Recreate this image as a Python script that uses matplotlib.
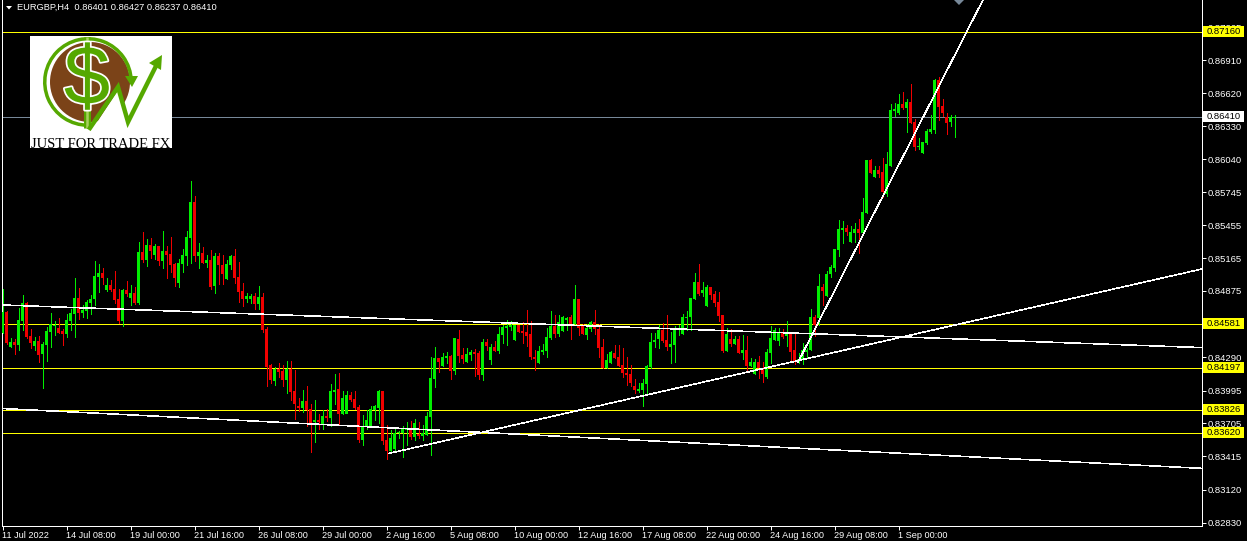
import matplotlib
matplotlib.use('Agg')
import matplotlib.pyplot as plt
import matplotlib.patheffects as pe
from matplotlib.patches import Circle, Rectangle, Wedge, Polygon

plt.rcParams['font.family'] = ['Liberation Sans', 'DejaVu Sans']

# EURGBP H4 candles
opens = [
    .84501, .84692, .84380, .84424, .84398, .84610, .84766, .84477, .84389, .84433,
    .84318, .84398, .84513, .84566, .84548, .84522, .84495, .84610, .84672, .84813,
    .84680, .84698, .84769, .84804, .84998, .85034, .84884, .84928, .84892, .84804,
    .84610, .84884, .84813, .84857, .84769, .85219, .85148, .85281, .85193, .85272,
    .85140, .85228, .85201, .85113, .84945, .85113, .85184, .85343, .85660, .85184,
    .85210, .85122, .85148, .84919, .85184, .85104, .84981, .85104, .85184, .84998,
    .84875, .84804, .84804, .84831, .84760, .84822, .84539, .84221, .84080, .84186,
    .84168, .84089, .84186, .83992, .83859, .83842, .83903, .83833, .83718, .83736,
    .83700, .83771, .83753, .83983, .84009, .83789, .83791, .83956, .83921, .83850,
    .83559, .83683, .83683, .83824, .83842, .83992, .83559, .83462, .83480, .83621,
    .83621, .83647, .83665, .83586, .83612, .83594, .83603, .83762, .84098, .84283,
    .84212, .84283, .84301, .84168, .84451, .84310, .84248, .84310, .84336, .84327,
    .84133, .84424, .84265, .84380, .84345, .84486, .84548, .84557, .84442, .84574,
    .84521, .84513, .84495, .84292, .84239, .84336, .84345, .84459, .84565, .84495,
    .84521, .84618, .84645, .84583, .84804, .84574, .84486, .84539, .84601, .84539,
    .84380, .84194, .84239, .84327, .84292, .84221, .84150, .84141, .84036, .83991,
    .84000, .84053, .84203, .84424, .84451, .84530, .84442, .84380, .84398, .84530,
    .84495, .84636, .84645, .84804, .84954, .84857, .84742, .84910, .84848, .84777,
    .84662, .84345, .84451, .84406, .84451, .84327, .84353, .84212, .84141, .84248,
    .84194, .84115, .84327, .84442, .84433, .84503, .84477, .84495, .84353, .84265,
    .84274, .84336, .84354, .84645, .84636, .84910, .84831, .85025, .85078, .85237,
    .85413, .85431, .85307, .85387, .85422, .85387, .85563, .86031, .85881, .85943,
    .85926, .85731, .85978, .86464, .86446, .86526, .86490, .86543, .86367, .86146,
    .86093, .86181, .86279, .86296, .86738, .86508, .86411, .86367, .86401,
]
highs = [
    .84892, .84701, .84460, .84451, .84725, .84839, .84778, .84539, .84469, .84477,
    .84424, .84557, .84680, .84610, .84636, .84539, .84672, .84716, .84989, .84901,
    .84751, .84795, .84839, .85140, .85113, .85078, .84989, .84972, .85051, .84892,
    .84892, .84963, .84928, .84910, .85307, .85396, .85334, .85343, .85290, .85272,
    .85404, .85272, .85351, .85122, .85157, .85246, .85404, .85846, .85713, .85298,
    .85263, .85193, .85237, .85210, .85210, .85193, .85148, .85193, .85246, .85131,
    .84945, .84857, .84848, .84857, .84919, .84857, .84557, .84230, .84204, .84239,
    .84221, .84257, .84257, .84177, .83930, .84001, .84036, .83877, .83912, .83789,
    .83824, .83833, .84053, .84142, .84151, .83992, .83992, .83983, .83992, .83868,
    .83780, .83824, .83859, .83868, .84001, .83992, .83692, .83647, .83656, .83639,
    .83683, .83718, .83727, .83744, .83718, .83692, .83806, .84292, .84380, .84283,
    .84327, .84336, .84310, .84460, .84530, .84371, .84371, .84354, .84363, .84345,
    .84451, .84451, .84407, .84433, .84557, .84574, .84619, .84610, .84574, .84574,
    .84601, .84707, .84609, .84353, .84389, .84406, .84548, .84698, .84662, .84662,
    .84654, .84645, .84662, .84927, .84804, .84583, .84583, .84609, .84707, .84583,
    .84451, .84318, .84345, .84398, .84398, .84371, .84292, .84221, .84097, .84062,
    .84097, .84221, .84503, .84503, .84574, .84592, .84662, .84512, .84565, .84574,
    .84671, .84698, .84812, .85033, .85113, .84954, .84927, .84910, .84874, .84865,
    .84662, .84548, .84539, .84477, .84477, .84486, .84477, .84283, .84274, .84300,
    .84248, .84362, .84565, .84548, .84548, .84539, .84609, .84495, .84495, .84327,
    .84415, .84371, .84716, .84663, .85025, .84937, .85051, .85104, .85246, .85502,
    .85493, .85458, .85449, .85475, .85510, .85696, .86031, .86040, .85978, .85978,
    .86049, .86102, .86526, .86535, .86614, .86632, .86570, .86702, .86393, .86226,
    .86190, .86305, .86429, .86747, .86764, .86570, .86446, .86429, .86427,
]
lows = [
    .84501, .84407, .84380, .84318, .84354, .84530, .84460, .84371, .84354, .84248,
    .84018, .84257, .84380, .84486, .84504, .84398, .84469, .84530, .84469, .84627,
    .84645, .84636, .84672, .84751, .84866, .84936, .84875, .84875, .84769, .84592,
    .84566, .84831, .84751, .84760, .84760, .85131, .85095, .85166, .85157, .85104,
    .85078, .84989, .85043, .84919, .84910, .85043, .85104, .85122, .85140, .85078,
    .85122, .85087, .84892, .84857, .84936, .84936, .84981, .85069, .84945, .84778,
    .84742, .84778, .84769, .84716, .84716, .84513, .84036, .84062, .84045, .84115,
    .84036, .83974, .83912, .83744, .83815, .83806, .83683, .83453, .83541, .83656,
    .83656, .83727, .83683, .83877, .83700, .83789, .83806, .83903, .83833, .83541,
    .83515, .83656, .83683, .83736, .83709, .83524, .83391, .83441, .83462, .83577,
    .83409, .83515, .83568, .83559, .83577, .83559, .83603, .83427, .84027, .84160,
    .84212, .84239, .84098, .84142, .84248, .84239, .84248, .84265, .84124, .84098,
    .84089, .84354, .84230, .84345, .84327, .84415, .84398, .84530, .84442, .84513,
    .84415, .84389, .84274, .84177, .84239, .84318, .84292, .84451, .84468, .84477,
    .84521, .84530, .84451, .84574, .84486, .84495, .84451, .84521, .84495, .84292,
    .84194, .84194, .84239, .84283, .84212, .84115, .84044, .84036, .83974, .83983,
    .83859, .83974, .84194, .84380, .84371, .84424, .84353, .84239, .84248, .84486,
    .84495, .84530, .84530, .84804, .84839, .84830, .84742, .84804, .84742, .84609,
    .84336, .84345, .84389, .84406, .84327, .84274, .84159, .84212, .84141, .84106,
    .84071, .84106, .84239, .84442, .84398, .84459, .84389, .84256, .84230, .84239,
    .84230, .84292, .84354, .84477, .84575, .84751, .84831, .84998, .85051, .85184,
    .85299, .85369, .85307, .85307, .85210, .85387, .85563, .85917, .85881, .85881,
    .85705, .85714, .85978, .86420, .86438, .86482, .86279, .86358, .86120, .86129,
    .86093, .86173, .86270, .86270, .86385, .86420, .86261, .86332, .86237,
]
closes = [
    .84692, .84413, .84424, .84398, .84619, .84766, .84469, .84416, .84433, .84310,
    .84407, .84522, .84583, .84575, .84504, .84495, .84619, .84680, .84813, .84680,
    .84707, .84778, .84804, .85007, .85034, .84989, .84928, .84884, .84795, .84610,
    .84884, .84848, .84857, .84769, .85219, .85148, .85281, .85228, .85272, .85140,
    .85228, .85193, .85104, .84989, .85122, .85193, .85351, .85660, .85184, .85219,
    .85122, .85148, .84910, .85184, .85104, .85025, .85113, .85184, .84989, .84866,
    .84804, .84831, .84831, .84760, .84822, .84530, .84204, .84089, .84186, .84160,
    .84089, .84186, .83983, .83877, .83842, .83903, .83824, .83709, .83736, .83718,
    .83771, .83753, .83992, .84001, .83789, .83930, .83956, .83912, .83842, .83559,
    .83674, .83736, .83833, .83859, .83992, .83550, .83462, .83577, .83621, .83630,
    .83665, .83656, .83586, .83709, .83594, .83621, .83771, .84106, .84283, .84248,
    .84292, .84301, .84168, .84460, .84301, .84274, .84318, .84336, .84318, .84133,
    .84424, .84389, .84380, .84345, .84495, .84557, .84566, .84574, .84574, .84513,
    .84504, .84477, .84292, .84274, .84345, .84353, .84468, .84565, .84495, .84601,
    .84645, .84636, .84583, .84804, .84548, .84495, .84548, .84601, .84539, .84371,
    .84194, .84265, .84336, .84283, .84212, .84150, .84133, .84062, .84000, .84009,
    .84062, .84212, .84424, .84442, .84530, .84433, .84380, .84406, .84539, .84539,
    .84645, .84645, .84812, .84954, .84848, .84883, .84910, .84839, .84768, .84654,
    .84345, .84495, .84406, .84451, .84327, .84353, .84212, .84248, .84248, .84194,
    .84141, .84336, .84459, .84530, .84503, .84468, .84495, .84336, .84256, .84274,
    .84353, .84353, .84645, .84575, .84919, .84875, .85025, .85087, .85246, .85422,
    .85431, .85396, .85396, .85422, .85387, .85572, .86031, .85917, .85943, .85908,
    .85749, .85996, .86473, .86482, .86526, .86490, .86543, .86358, .86146, .86155,
    .86190, .86287, .86305, .86738, .86499, .86446, .86358, .86411, .86410,
]

level_prices = [.87160, .84581, .84197, .83826, .83620]
level_labels = ['0.87160', '0.84581', '0.84197', '0.83826', '0.83620']
current_price = .86410

# trend lines: bar index and price of both ends
trend_bars = [(0, 299.75), (0, 299.75), (96.4, 299.75), (198.9, 245.1)]
trend_prices = [(.84751, .84375), (.83837, .83309), (.83439, .85068), (.84247, .87444)]

price_ticks = [.87205, .86910, .86620, .86330, .86040, .85745, .85455, .85165,
               .84875, .84580, .84290, .83995, .83705, .83415, .83120, .82830]
time_ticks = list(range(0, 225, 16))
time_labels = ['11 Jul 2022', '14 Jul 08:00', '19 Jul 00:00', '21 Jul 16:00', '26 Jul 08:00',
               '29 Jul 00:00', '2 Aug 16:00', '5 Aug 08:00', '10 Aug 00:00', '12 Aug 16:00',
               '17 Aug 08:00', '22 Aug 00:00', '24 Aug 16:00', '29 Aug 08:00', '1 Sep 00:00']

W, H = 1247, 541
GREEN = '#00ee00'
RED = '#f00000'
LW = 0.72  # one pixel at dpi 100
PRICE_PER_PX = .0000883

fig = plt.figure(figsize=(W / 100, H / 100), dpi=100, facecolor='black')
ax = fig.add_axes([1.5 / W, 1 - 525.5 / H, 1200 / W, 525.5 / H], facecolor='black')
ax.set_xlim(-0.25, 299.75)
ax.set_ylim(.82804, .87444)

for i in range(len(opens)):
    col = GREEN if closes[i] >= opens[i] else RED
    ax.vlines(i, lows[i], highs[i], color=col, lw=LW, antialiased=False, zorder=3)
    bottom = min(opens[i], closes[i])
    height = max(abs(closes[i] - opens[i]), .00009)
    ax.bar(i, height, bottom=bottom, width=0.75, color=col, lw=0, antialiased=False, zorder=3)

for p in level_prices:
    ax.axhline(p, color='#ffff00', lw=LW, antialiased=False, zorder=2)
ax.axhline(current_price, color='#778899', lw=LW, antialiased=False, zorder=2)

for bars, prices in zip(trend_bars, trend_prices):
    ax.plot(bars, prices, color='white', lw=0.4, antialiased=False, zorder=4,
            solid_capstyle='butt')

for side in ['left', 'right', 'bottom']:
    ax.spines[side].set_color('white')
    ax.spines[side].set_linewidth(LW)
ax.spines['top'].set_visible(False)

ax.yaxis.tick_right()
ax.set_yticks(price_ticks)
ax.set_yticklabels([f'{p:.5f}' for p in price_ticks])
ax.tick_params(axis='y', colors='white', length=3, width=LW, pad=1.2, labelsize=6.8)
ax.set_xticks(time_ticks)
ax.set_xticklabels(time_labels, ha='left')
ax.tick_params(axis='x', colors='white', length=3, width=LW, pad=1, labelsize=6.6)

# price boxes on the right scale
trans = ax.get_yaxis_transform()
box_left = (1202.7 - 1.5) / 1200
box_w = 41.3 / 1200
text_left = (1207 - 1.5) / 1200


def price_box(price, label, fill):
    mid = price + 0.5 * PRICE_PER_PX
    half = 5.3 * PRICE_PER_PX
    ax.add_patch(Rectangle((box_left, mid - half), box_w, 2 * half, transform=trans, fc=fill,
                           ec='none', zorder=9, clip_on=False))
    ax.text(text_left, mid, label, transform=trans, color='black', fontsize=6.8,
            va='center', ha='left', zorder=10, clip_on=False)


for p, lab in zip(level_prices, level_labels):
    price_box(p, lab, '#ffff00')
price_box(current_price, f'{current_price:.5f}', 'white')

# overlay in picture pixels for header, marker and logo
ov = fig.add_axes([0, 0, 1, 1], facecolor='none')
ov.set_xlim(0, W)
ov.set_ylim(H, 0)
ov.axis('off')

ov.add_patch(Polygon([(6, 6), (12, 6), (9, 9.5)], fc='white', ec='none'))
ov.text(17, 7, 'EURGBP,H4  0.86401 0.86427 0.86237 0.86410', color='white', fontsize=6.7,
        va='center', ha='left')
ov.add_patch(Polygon([(954, 0), (964, 0), (959, 5)], fc='#778899', ec='none'))

# logo
LOGO_GREEN = '#55a800'
ov.add_patch(Rectangle((30, 36), 142, 112, fc='white', ec='none'))
ov.add_patch(Circle((90, 82), 40, fc='#7b4318', ec='none'))
ov.add_patch(Polygon([(92, 130), (118, 90), (129, 124), (140, 100), (140, 130)], fc='white', ec='none'))
ov.add_patch(Wedge((88, 82), 45, 90, 358, width=3.5, fc=LOGO_GREEN, ec='none'))
ov.text(87, 82, '$', color=LOGO_GREEN, fontsize=60, family='Liberation Sans', va='center', ha='center',
        path_effects=[pe.withStroke(linewidth=2.5, foreground='white')])
ov.plot([86.5, 86.5], [37, 128], color=LOGO_GREEN, lw=5, solid_capstyle='butt')
ov.plot([86.5, 86.5], [37, 128], color='#a8d060', lw=1.8, solid_capstyle='butt')
ov.plot([90, 118, 128, 158], [128, 87, 122, 62], color=LOGO_GREEN, lw=3.2, solid_joinstyle='miter')
ov.add_patch(Polygon([(149, 63), (162, 55), (161, 70)], fc=LOGO_GREEN, ec='none'))
ov.add_patch(Polygon([(125, 76), (138, 76), (132, 87)], fc=LOGO_GREEN, ec='none'))
ov.text(101, 144, 'JUST FOR TRADE FX', color='black', fontsize=10.5, family='Liberation Serif',
        va='center', ha='center')

fig.savefig('out.png', dpi=100, facecolor='black')
